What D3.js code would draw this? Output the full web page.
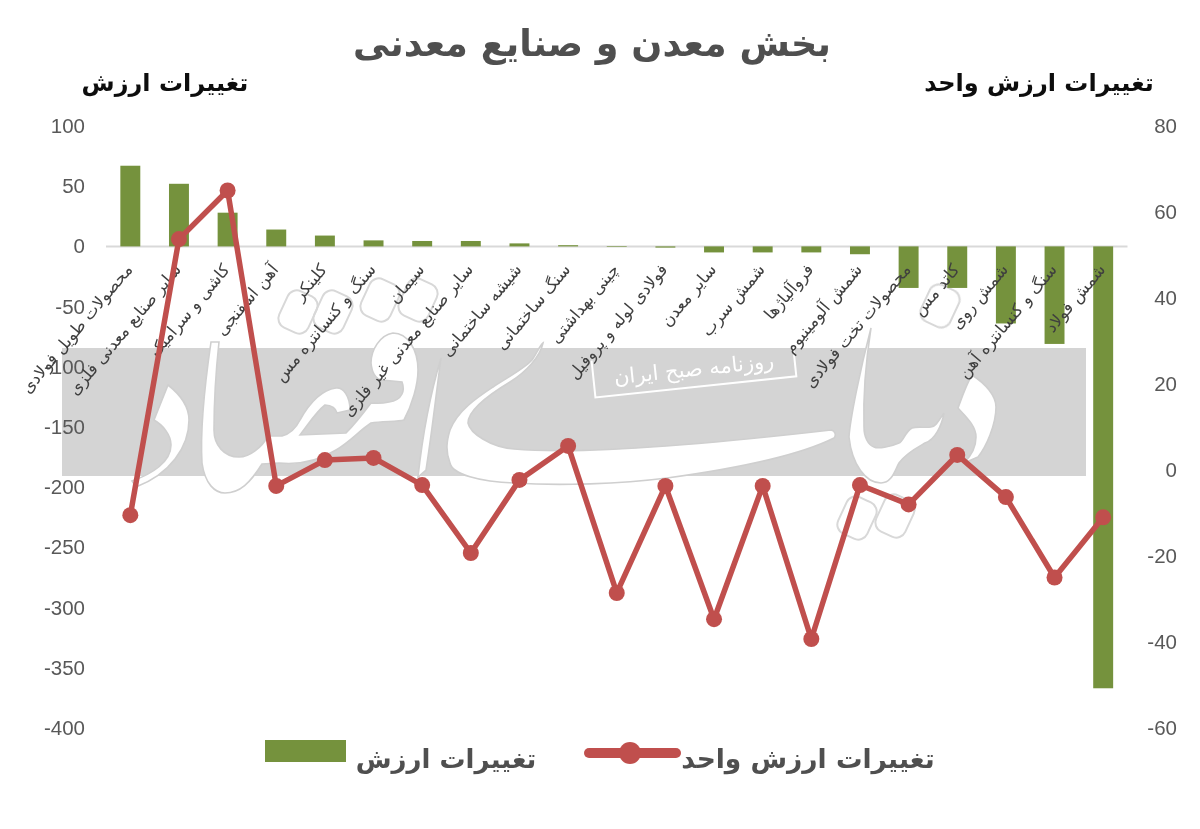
<!DOCTYPE html>
<html lang="fa"><head><meta charset="utf-8">
<script src="https://cdn.jsdelivr.net/npm/d3@7/dist/d3.min.js"></script>
<style>html,body{margin:0;padding:0;background:#fff}svg{display:block}text{font-family:"DejaVu Sans",sans-serif}</style>
</head><body><div id="c"></div>
<script>
const categories=["محصولات طویل فولادی","سایر صنایع معدنی فلزی","کاشی و سرامیک","آهن اسفنجی","کلینکر","سنگ و کنسانتره مس","سیمان","سایر صنایع معدنی غیر فلزی","شیشه ساختمانی","سنگ ساختمانی","چینی بهداشتی","فولادی لوله و پروفیل","سایر معدن","شمش سرب","فروآلیاژها","شمش آلومینیوم","محصولات تخت فولادی","کاتد مس","شمش روی","سنگ و کنسانتره آهن","شمش فولاد"];
const valueChange=[67,52,28,14,9,5,4.5,4.5,2.5,1,-0.5,-1,-5,-5,-5,-6.5,-34.5,-34.5,-64,-81,-367];
const unitValueChange=[-10.5,53.7,65,-3.7,2.3,2.8,-3.5,-19.3,-2.3,5.6,-28.6,-3.7,-34.7,-3.7,-39.3,-3.5,-8,3.5,-6.3,-25,-11];
const leftTicks=[100,50,0,-50,-100,-150,-200,-250,-300,-350,-400];
const rightTicks=[80,60,40,20,0,-20,-40,-60];
const titleText="بخش معدن و صنایع معدنی";
const seriesNames=["تغییرات ارزش","تغییرات ارزش واحد"];
const watermarkMain="روزنامه صبح ایران";

const W=1200,H=829,green="#75923c",red="#c0504d";
const svg=d3.select("#c").append("svg").attr("width",W).attr("height",H).attr("viewBox",[0,0,W,H]);
const defs=svg.append("defs");
defs.append("filter").attr("id","soft").append("feGaussianBlur").attr("stdDeviation",0.45);
const root=svg.append("g").attr("filter","url(#soft)");

const x=d3.scaleBand().domain(categories).range([106,1127.5]).paddingInner(0.59).paddingOuter(0.295);
const yL=d3.scaleLinear().domain([100,-400]).range([126,728]);
const yR=d3.scaleLinear().domain([80,-60]).range([126,728]);
const cx=d=>x(d)+x.bandwidth()/2;

// watermark
const wm=root.append("g");
wm.append("rect").attr("x",62).attr("y",348).attr("width",1024).attr("height",128).attr("fill","#d4d4d4");
const shapes=[
"M168,385 C182,396 189,408 189,420 C189,447 170,474 136,487 L132,481 C152,474 171,462 171,445 C171,435 163,425 154,420 Z",
"M211,342 C204,390 200,430 202,463 C205,484 215,493 225,493 C240,493 250,483 262,464 L279,463 C300,465 320,460 336,450 C350,442 360,430 371,423 C382,421 398,422 404,420 C412,405 418,385 418,370 C418,350 408,333 393,333 C380,335 371,350 371,363 C372,373 376,379 382,380 L402,382 C405,390 403,400 389,402 C380,404 375,403 371,403 C362,415 354,425 346,433 L300,435 C310,422 316,412 325,405 C332,405 336,409 337,413 L350,410 C350,396 343,387 336,388 C322,390 310,402 300,420 C296,428 290,434 282,436 L268,436 C262,447 250,457 239,457 C224,457 214,445 214,430 C214,400 216,370 219,342 Z",
"M441,358 C430,395 422,440 418,477 L426,470 C432,432 436,395 441,358 Z",
"M543,343 C540,357 526,372 510,382 C490,394 468,410 468,423 C470,433 490,447 514,449 C580,455 700,445 831,430 C836,431 836,436 834,438 C800,455 740,468 667,478 C620,484 560,486 514,483 C480,482 452,474 450,463 C445,450 447,440 450,430 C458,410 478,397 493,387 C510,376 525,368 532,360 C536,355 540,345 543,343 Z",
"M871,328 C860,370 850,420 849,437 C852,465 866,483 881,483 C892,483 895,470 899,463 C906,453 918,447 925,443 C935,440 942,425 944,413 C938,422 935,427 931,427 C925,428 918,426 912,428 C905,432 903,442 899,443 C890,447 878,449 874,447 C868,445 864,437 864,427 C863,395 866,360 871,328 Z",
"M972,375 C986,384 996,396 996,407 C996,425 986,447 978,457 L964,463 C972,455 976,445 976,437 C976,425 964,415 958,408 C962,397 966,385 972,375 Z"];
wm.selectAll("path.s").data(shapes).join("path").attr("class","s").attr("d",d=>d).attr("fill","#fff").attr("stroke","#cfcfcf").attr("stroke-width",1.6);
const loops=[[298,312],[333,312],[380,300],[418,300],[940,306],[857,518],[895,516]];
wm.selectAll("rect.l").data(loops).join("rect").attr("class","l").attr("x",d=>d[0]-16).attr("y",d=>d[1]-20).attr("width",32).attr("height",40).attr("rx",10)
  .attr("transform",d=>`rotate(25 ${d[0]} ${d[1]})`).attr("fill","none").attr("stroke","#d8d8d8").attr("stroke-width",2);
const box=wm.append("g").attr("transform","translate(694,369) rotate(-6)");
box.append("path").attr("d","M101,-19V18H-101V-19").attr("fill","none").attr("stroke","#fff").attr("stroke-width",2);
box.append("text").attr("text-anchor","middle").attr("y",7).attr("font-size",21).attr("fill","#fff").text(watermarkMain);

// baseline
root.append("line").attr("x1",106).attr("x2",1127.5).attr("y1",yL(0)).attr("y2",yL(0)).attr("stroke","#d9d9d9").attr("stroke-width",2);

// bars
root.append("g").selectAll("rect").data(categories).join("rect")
 .attr("x",d=>x(d)).attr("width",x.bandwidth())
 .attr("y",(d,i)=>Math.min(yL(valueChange[i]),yL(0)))
 .attr("height",(d,i)=>Math.abs(yL(valueChange[i])-yL(0)))
 .attr("fill",green);

// axes
const fmt=d=>String(d);
const axL=root.append("g").attr("transform","translate(85,0)").call(d3.axisLeft(yL).tickValues(leftTicks).tickSize(0).tickPadding(0).tickFormat(fmt));
const axR=root.append("g").attr("transform","translate(1177,0)").call(d3.axisRight(yR).tickValues(rightTicks).tickSize(0).tickPadding(0).tickFormat(fmt));
[axL,axR].forEach(a=>{a.select(".domain").remove();a.selectAll("text").attr("fill","#595959").attr("font-size",20.5).style("font-family","'Liberation Sans',sans-serif").attr("text-anchor","end").attr("x",0);});

// category labels
root.append("g").selectAll("text").data(categories).join("text")
 .attr("transform",d=>`translate(${cx(d)+3},${270}) rotate(-50)`)
 .attr("direction","rtl").attr("text-anchor","start").attr("font-size",16.5).attr("fill","#3f3f3f").text(d=>d);

// line
const line=d3.line().x((d,i)=>cx(categories[i])).y(d=>yR(d));
root.append("path").datum(unitValueChange).attr("d",line).attr("fill","none").attr("stroke",red).attr("stroke-width",5.5).attr("stroke-linejoin","round");
root.append("g").selectAll("circle").data(unitValueChange).join("circle")
 .attr("cx",(d,i)=>cx(categories[i])).attr("cy",d=>yR(d)).attr("r",8).attr("fill",red);

// titles
root.append("text").attr("x",592).attr("y",56).attr("text-anchor","middle").attr("font-size",36.5).attr("font-weight",700).attr("fill","#505050").text(titleText);
root.append("text").attr("x",165).attr("y",91).attr("text-anchor","middle").attr("font-size",24).attr("font-weight",700).attr("fill","#111").text(seriesNames[0]);
root.append("text").attr("x",1039).attr("y",91).attr("text-anchor","middle").attr("font-size",24).attr("font-weight",700).attr("fill","#111").text(seriesNames[1]);

// legend
root.append("rect").attr("x",265).attr("y",740).attr("width",81).attr("height",22).attr("fill",green);
root.append("text").attr("x",446).attr("y",768).attr("text-anchor","middle").attr("font-size",26).attr("font-weight",700).attr("fill","#505050").text(seriesNames[0]);
root.append("line").attr("x1",589).attr("x2",676).attr("y1",753).attr("y2",753).attr("stroke",red).attr("stroke-width",10).attr("stroke-linecap","round");
root.append("circle").attr("cx",630).attr("cy",753).attr("r",11).attr("fill",red);
root.append("text").attr("x",808).attr("y",768).attr("text-anchor","middle").attr("font-size",26.5).attr("font-weight",700).attr("fill","#505050").text(seriesNames[1]);
</script></body></html>
